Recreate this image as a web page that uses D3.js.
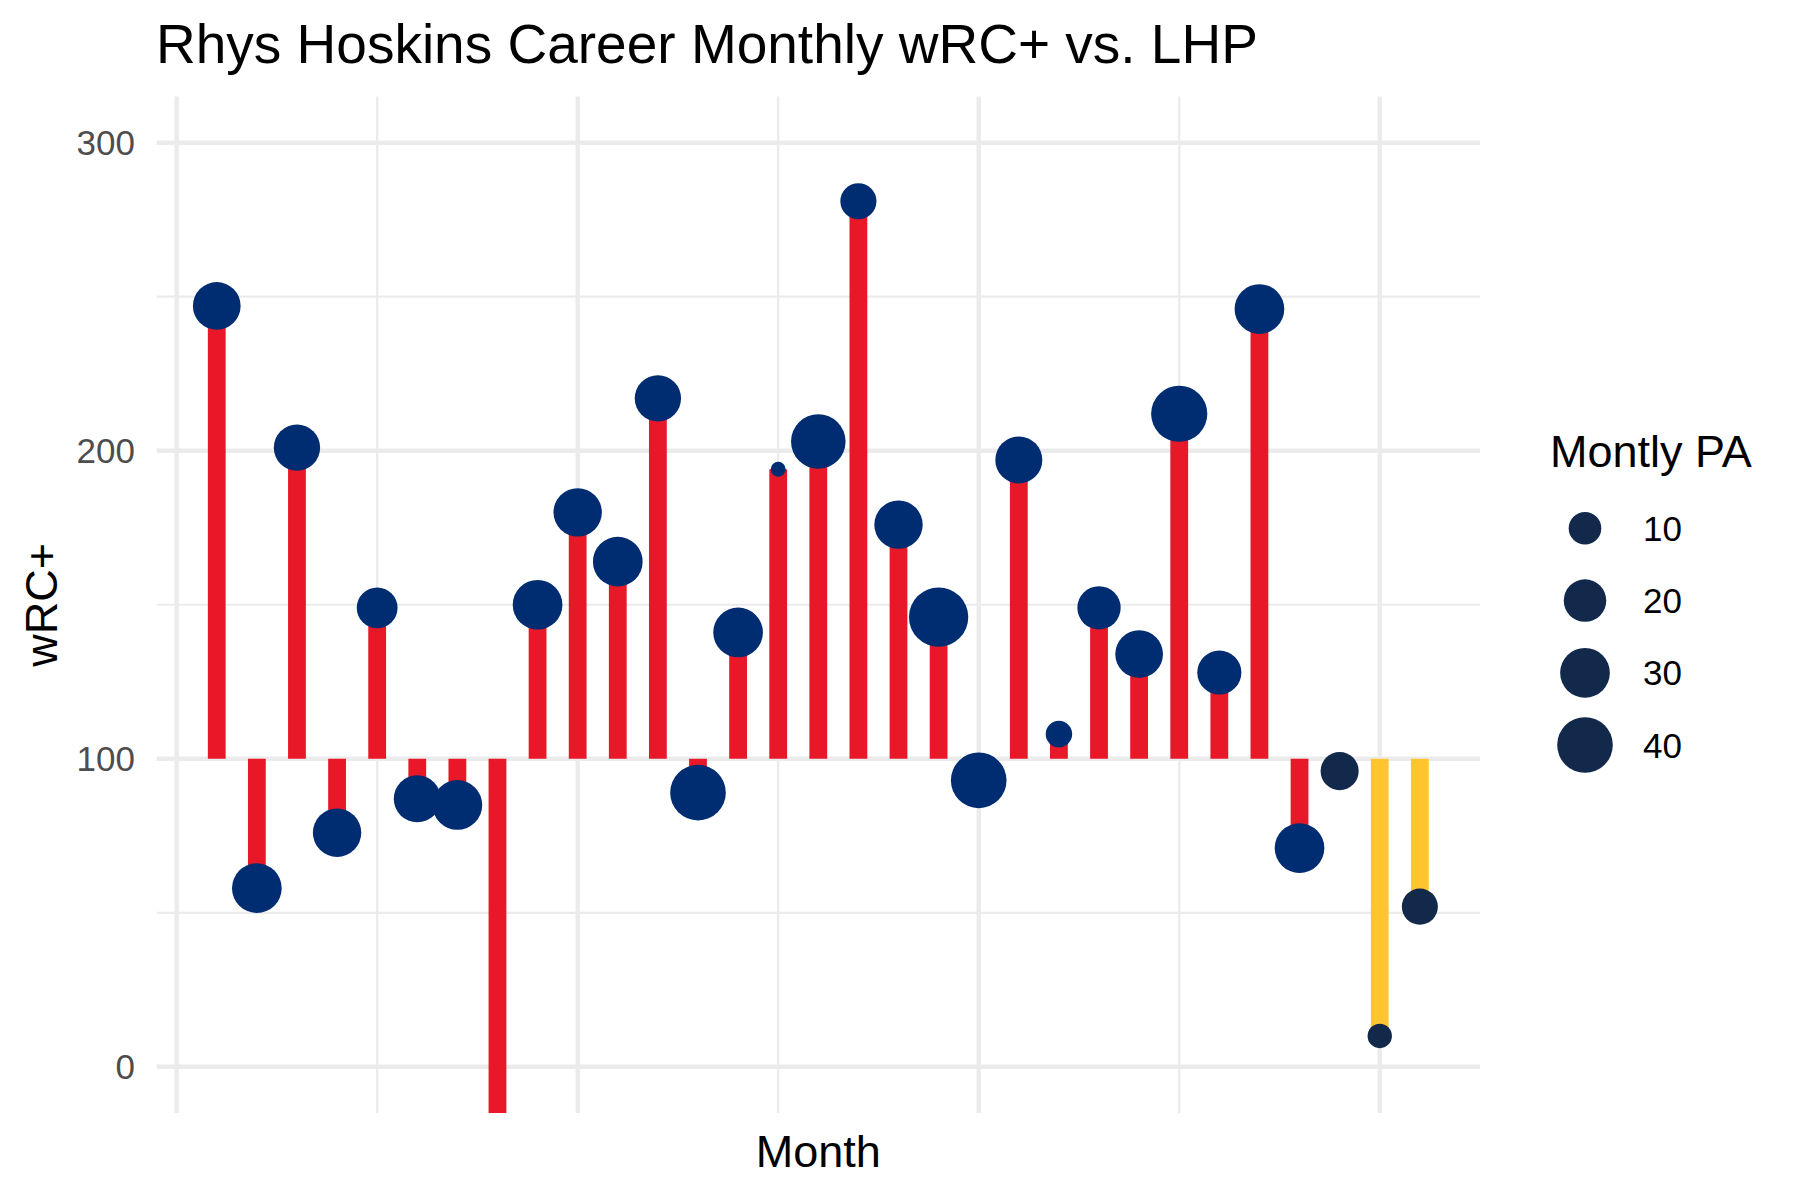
<!DOCTYPE html>
<html>
<head>
<meta charset="utf-8">
<script src="https://cdn.jsdelivr.net/npm/d3@7"></script>
<style>
  html, body { margin: 0; padding: 0; background: #fff; }
  svg text { font-family: "Liberation Sans", Arial, Helvetica, sans-serif; }
</style>
</head>
<body>
<svg id="chart" width="1800" height="1200"></svg>
<script>
// ---- Data ----
const monthIndex = [1,2,3,4,5,6,7,8,9,10,11,12,13,14,15,16,17,18,19,20,21,22,23,24,25,26,27,28,29,30,31];
const wrcPlus    = [247,58,201,76,149,87,85,-35,150,180,164,217,89,141,194,203,281,176,146,93,197,108,149,134,212,128,246,71,96,10,52];
const monthlyPA  = [27,30,25,28,18,26,30,20,30,28,30,25,40,30,3,38,13,28,47,40,26,6,21,27,41,22,30,30,15,5,13];
const team       = ["PHI","PHI","PHI","PHI","PHI","PHI","PHI","PHI","PHI","PHI","PHI","PHI","PHI","PHI","PHI","PHI","PHI","PHI","PHI","PHI","PHI","PHI","PHI","PHI","PHI","PHI","PHI","PHI","MIL","MIL","MIL"];
const yTicks = [0, 100, 200, 300];
const yMinorTicks = [50, 150, 250];
const xTicks = [0, 10, 20, 30];
const xMinorTicks = [5, 15, 25];
const legendValues = [10, 20, 30, 40];

const barColor   = { PHI: "#E81828", MIL: "#FFC52F" };
const pointColor = { PHI: "#002D72", MIL: "#13294B" };

const data = monthIndex.map((m, i) => ({ m, v: wrcPlus[i], pa: monthlyPA[i], team: team[i] }));

// ---- Layout ----
const panel = { left: 156.6, right: 1480, top: 96.5, bottom: 1113 };
const svg = d3.select("#chart");

const x = d3.scaleLinear().domain([-0.5, 32.5]).range([panel.left, panel.right]);
const y = d3.scaleLinear().domain([-15, 315]).range([panel.bottom, panel.top]);
const paMin = d3.min(monthlyPA), paMax = d3.max(monthlyPA);
const rBase = d3.scaleSqrt().domain([0, paMax - paMin]).range([7.45, 29.67]);
const r = pa => rBase(pa - paMin);

// ---- Grid ----
const grid = svg.append("g");
grid.selectAll(".hmin").data(yMinorTicks).join("line")
  .attr("x1", panel.left).attr("x2", panel.right)
  .attr("y1", d => y(d)).attr("y2", d => y(d))
  .attr("stroke", "#EBEBEB").attr("stroke-width", 2.2);
grid.selectAll(".vmin").data(xMinorTicks).join("line")
  .attr("y1", panel.top).attr("y2", panel.bottom)
  .attr("x1", d => x(d)).attr("x2", d => x(d))
  .attr("stroke", "#EBEBEB").attr("stroke-width", 2.2);
grid.selectAll(".hmaj").data(yTicks).join("line")
  .attr("x1", panel.left).attr("x2", panel.right)
  .attr("y1", d => y(d)).attr("y2", d => y(d))
  .attr("stroke", "#EBEBEB").attr("stroke-width", 4.4);
grid.selectAll(".vmaj").data(xTicks).join("line")
  .attr("y1", panel.top).attr("y2", panel.bottom)
  .attr("x1", d => x(d)).attr("x2", d => x(d))
  .attr("stroke", "#EBEBEB").attr("stroke-width", 4.4);

// ---- Y axis labels ----
svg.append("g").selectAll("text").data(yTicks).join("text")
  .attr("x", 135).attr("y", d => y(d)).attr("dy", "0.36em")
  .attr("text-anchor", "end")
  .attr("font-size", 35).attr("fill", "#4D4D4D")
  .text(d => d);

// ---- Marks (clipped to panel) ----
svg.append("clipPath").attr("id", "pclip").append("rect")
  .attr("x", panel.left).attr("y", panel.top)
  .attr("width", panel.right - panel.left).attr("height", panel.bottom - panel.top);

const marks = svg.append("g").attr("clip-path", "url(#pclip)");
marks.selectAll(".bar").data(data).join("line")
  .attr("x1", d => x(d.m)).attr("x2", d => x(d.m))
  .attr("y1", y(100)).attr("y2", d => y(d.v))
  .attr("stroke", d => barColor[d.team]).attr("stroke-width", 17.8);
marks.selectAll(".pt").data(data).join("circle")
  .attr("cx", d => x(d.m)).attr("cy", d => y(d.v)).attr("r", d => r(d.pa))
  .attr("fill", d => pointColor[d.team]);

// ---- Titles ----
svg.append("text").attr("x", 156).attr("y", 63)
  .attr("font-size", 55).attr("fill", "#000")
  .text("Rhys Hoskins Career Monthly wRC+ vs. LHP");
svg.append("text").attr("x", (panel.left + panel.right) / 2).attr("y", 1167)
  .attr("text-anchor", "middle").attr("font-size", 45).attr("fill", "#000")
  .text("Month");
svg.append("text").attr("transform", `translate(57, ${(panel.top + panel.bottom) / 2}) rotate(-90)`)
  .attr("text-anchor", "middle").attr("font-size", 45).attr("fill", "#000")
  .text("wRC+");

// ---- Legend ----
const lg = svg.append("g");
lg.append("text").attr("x", 1550).attr("y", 467)
  .attr("font-size", 45).attr("fill", "#000").text("Montly PA");
const keyY = [528.3, 600.6, 672.8, 745];
lg.selectAll("circle").data(legendValues).join("circle")
  .attr("cx", 1585).attr("cy", (d, i) => keyY[i]).attr("r", d => r(d))
  .attr("fill", "#13294B");
lg.selectAll(".lt").data(legendValues).join("text")
  .attr("x", 1643).attr("y", (d, i) => keyY[i]).attr("dy", "0.36em")
  .attr("font-size", 35).attr("fill", "#000").text(d => d);
</script>
</body>
</html>
